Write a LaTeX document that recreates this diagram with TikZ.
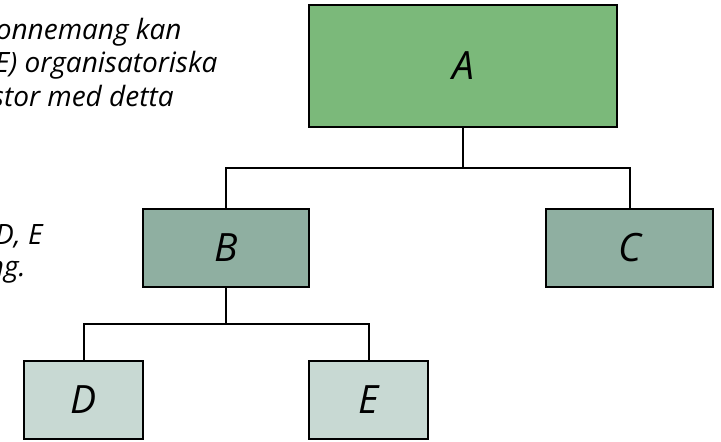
\documentclass[tikz,border=0pt]{standalone}
\usepackage{fontspec}
\setmainfont{Open Sans}
\definecolor{topgreen}{RGB}{123,185,122}
\definecolor{midgreen}{RGB}{143,175,161}
\definecolor{lowgreen}{RGB}{200,217,211}
\tikzset{
	orgbox/.style={draw=black, line width=1.25pt, inner sep=0pt, minimum height=39pt, font=\fontsize{19.5}{22}\selectfont\itshape},
	link/.style={line width=1pt, black},
	side/.style={anchor=base east, inner sep=0pt, font=\fontsize{14}{16.5}\selectfont\itshape}
}
\begin{document}
\begin{tikzpicture}[x=0.5pt, y=0.5pt]
		\useasboundingbox (0,0) rectangle (721,442);

		% text at the left, cut by the edge
		\node[side] (t1) at (182,402) {onnemang kan};
		\node[side] (t2) at (218,369) {E) organisatoriska};
		\node[side] (t3) at (174,335) {stor med detta};
		\node[side] (t4) at (43,197) {D, E};
		\node[side] (t5) at (26,165) {ng.};

		\node[orgbox, fill=topgreen, minimum width=154pt, minimum height=61pt] (A) at (463,376) {A};
		\node[orgbox, fill=midgreen, minimum width=83pt] (B) at (226,194) {B};
		\node[orgbox, fill=midgreen, minimum width=83.5pt] (C) at (629.5,194) {C};
		\node[orgbox, fill=lowgreen, minimum width=59.5pt] (D) at (83.5,42) {D};
		\node[orgbox, fill=lowgreen, minimum width=59.5pt] (E) at (368.5,42) {E};

		\coordinate (busA) at (463,274);
		\coordinate (busB) at (226,118);

		\draw[link] (A.south) -- (busA) -| (B.north);
		\draw[link] (busA) -| (C.north);
		\draw[link] (B.south) -- (busB) -| (D.north);
		\draw[link] (busB) -| (E.north);
		\end{tikzpicture}
\end{document}
